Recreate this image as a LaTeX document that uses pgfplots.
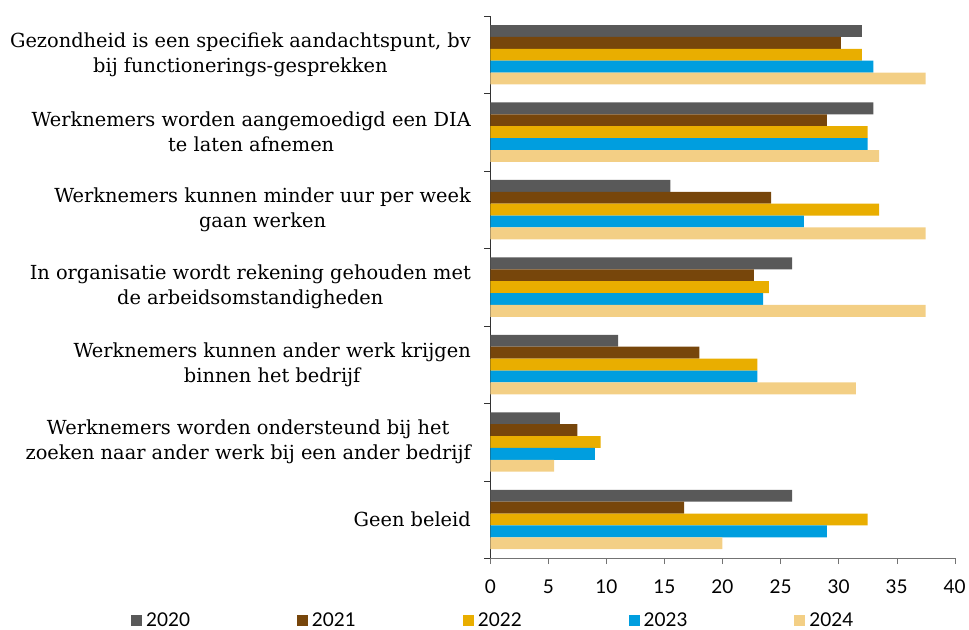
\documentclass[border=0pt]{standalone}
\usepackage{fontspec}
\setmainfont{Lato}
\newfontfamily\labelfont{DejaVu Serif}
\usepackage{pgfplots}
\pgfplotsset{compat=1.18}
\definecolor{c2020}{HTML}{595959}
\definecolor{c2021}{HTML}{77460B}
\definecolor{c2022}{HTML}{E9AE00}
\definecolor{c2023}{HTML}{009EDF}
\definecolor{c2024}{HTML}{F3CF85}
\begin{document}
\begin{tikzpicture}
% white frame with the reference's proportions (axis box at origin)
\path (-491pt,-71pt) rectangle (478pt,559pt);
\begin{axis}[
  at={(0pt,0pt)}, anchor=south west,
  scale only axis,
  width=465pt, height=543pt,
  xbar=0pt, bar width=11.9pt,
  xmin=0, xmax=40, xtick={0,5,...,40},
  ymin=-0.5, ymax=6.5,
  ytick={0,...,6},
  yticklabels={
    {Geen beleid},
    {Werknemers worden ondersteund bij het\\zoeken naar ander werk bij een ander bedrijf},
    {Werknemers kunnen ander werk krijgen\\binnen het bedrijf},
    {In organisatie wordt rekening gehouden met\\de arbeidsomstandigheden},
    {Werknemers kunnen minder uur per week\\gaan werken},
    {Werknemers worden aangemoedigd een DIA\\te laten afnemen},
    {Gezondheid is een specifiek aandachtspunt, bv\\bij functionerings-gesprekken}},
  minor ytick={-0.5,0.5,...,6.5},
  axis x line*=bottom, axis y line*=left,
  x axis line style={draw=black!55, -},
  y axis line style={draw=black!80, -},
  tick align=outside,
  major tick length=6pt, minor tick length=6pt,
  major y tick style={draw=none},
  minor y tick style={draw=black!80},
  major x tick style={draw=black!55},
  yticklabel style={font=\labelfont\fontsize{19.4}{25}\selectfont, align=center, xshift=-10pt},
  xticklabel style={font=\fontsize{19}{22}\selectfont, yshift=-12pt},
  /pgf/number format/assume math mode=true,
  legend columns=5,
  legend style={at={(axis description cs:-0.774,-0.114)}, anchor=west,
    draw=none, inner sep=0pt, font=\fontsize{19}{22}\selectfont,
    nodes={inner sep=0pt},
    /tikz/every odd column/.append style={column sep=4pt},
    /tikz/every even column/.append style={column sep=107pt}},
  legend image code/.code={\fill[#1] (0pt,-5.5pt) rectangle (11pt,5.5pt);},
]
\addplot[fill=c2020, draw=none, bar shift=23.8pt] coordinates {
  (26,0) (6,1) (11,2) (26,3) (15.5,4) (33,5) (32,6)};
\addplot[fill=c2021, draw=none, bar shift=11.9pt] coordinates {
  (16.7,0) (7.5,1) (18,2) (22.7,3) (24.2,4) (29,5) (30.2,6)};
\addplot[fill=c2022, draw=none, bar shift=0pt] coordinates {
  (32.5,0) (9.5,1) (23,2) (24,3) (33.5,4) (32.5,5) (32,6)};
\addplot[fill=c2023, draw=none, bar shift=-11.9pt] coordinates {
  (29,0) (9,1) (23,2) (23.5,3) (27,4) (32.5,5) (33,6)};
\addplot[fill=c2024, draw=none, bar shift=-23.8pt] coordinates {
  (20,0) (5.5,1) (31.5,2) (37.5,3) (37.5,4) (33.5,5) (37.5,6)};
\legend{2020,2021,2022,2023,2024}
\end{axis}
\end{tikzpicture}
\end{document}
